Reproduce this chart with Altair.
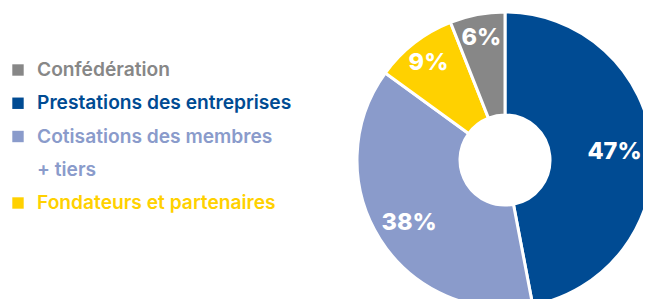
import altair as alt
import pandas as pd

# Pie data (clockwise from 12 o'clock)
pie_categories = ["Prestations des entreprises", "Cotisations des membres\n+ tiers",
                  "Fondateurs et partenaires", "Confédération"]
pie_values = [47, 38, 9, 6]
pie_labels = ["47%", "38%", "9%", "6%"]

# Legend order
legend_categories = ["Confédération", "Prestations des entreprises",
                     "Cotisations des membres\n+ tiers", "Fondateurs et partenaires"]
colors = ["#878787", "#004b93", "#8a9bcb", "#ffd100"]

pie_df = pd.DataFrame({
    "cat": pie_categories,
    "value": pie_values,
    "label": pie_labels,
    "idx": list(range(len(pie_categories))),
})

rows = []
line_no = 0
for cat in legend_categories:
    for j, line in enumerate(cat.split("\n")):
        rows.append({"cat": cat, "text": line, "line": line_no, "first": j == 0})
        line_no += 1
leg_df = pd.DataFrame(rows)

color_scale = alt.Scale(domain=legend_categories, range=colors)

W, H = 635, 291
CX, CY = 497, 152

base = alt.Chart(pie_df).encode(
    theta=alt.Theta("value:Q", stack=True),
    order=alt.Order("idx:Q"),
)

arcs = base.mark_arc(innerRadius=45, outerRadius=148, stroke="white",
                     strokeWidth=3, clip=True).encode(
    color=alt.Color("cat:N", scale=color_scale, legend=None),
    x=alt.value(CX), y=alt.value(CY),
)

labels = base.mark_text(color="white", fontSize=23.5, fontWeight=800,
                        font="Inter", align="center", baseline="middle").encode(
    text="label:N", x=alt.value(CX), y=alt.value(CY + 2),
    radius=alt.Radius("value:Q", scale=alt.Scale(type="linear", domain=[6, 47],
                                                  range=[126, 110], zero=False)),
)

yscale = alt.Scale(domain=[0, 4], range=[62, 195])

squares = alt.Chart(leg_df).transform_filter("datum.first").mark_square(
    size=130, opacity=1, filled=True).encode(
    x=alt.value(10),
    y=alt.Y("line:Q", scale=yscale, axis=None),
    color=alt.Color("cat:N", scale=color_scale, legend=None),
)

texts = alt.Chart(leg_df).mark_text(align="left", baseline="middle", fontSize=19.2,
                                    font="Inter", fontWeight=600).encode(
    x=alt.value(29),
    y=alt.Y("line:Q", scale=yscale, axis=None),
    text="text:N",
    color=alt.Color("cat:N", scale=color_scale, legend=None),
)

chart = alt.layer(arcs, labels, squares, texts).properties(
    width=W, height=H, autosize=alt.AutoSizeParams(type="none"), padding=0,
).configure_view(stroke=None)

chart.save("out.html", embed_options={"renderer": "svg", "actions": False})
